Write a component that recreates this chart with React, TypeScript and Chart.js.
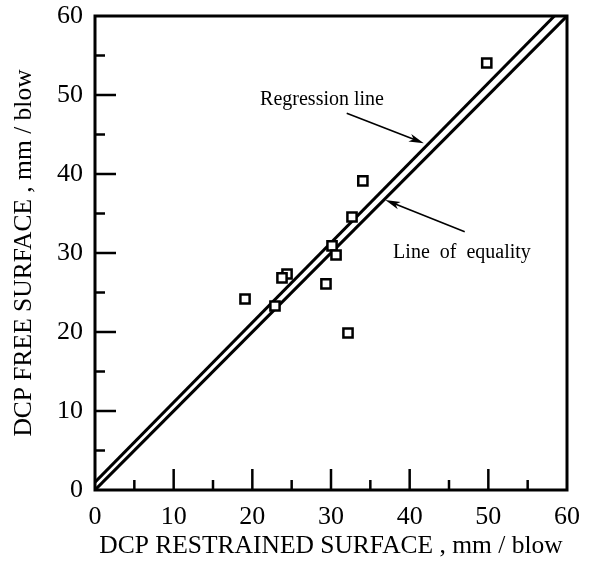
import React, { useEffect, useRef } from 'react';
import { Chart, registerables } from 'chart.js';

Chart.register(...registerables);

// ---- data ----
const restrainedSurface = [49.8, 34.05, 32.67, 30.13, 30.64, 24.41, 23.77, 19.07, 22.88, 29.36, 32.16];
const freeSurface = [54.05, 39.13, 34.56, 30.89, 29.75, 27.34, 26.84, 24.18, 23.29, 26.08, 19.87];

const equalityX = [0, 60];
const equalityY = [0, 60];
const regressionX = [0, 58.4];
const regressionY = [1.0, 60];

const majorTicks = [10, 20, 30, 40, 50];
const minorTicks = [5, 15, 25, 35, 45, 55];

const xTitle = 'DCP RESTRAINED SURFACE , mm / blow';
const yTitle = 'DCP FREE SURFACE , mm / blow';
const regressionLabel = 'Regression line';
const equalityLabel = 'Line  of  equality';

// annotation anchors in data units
const regressionText = { x: 28.86, y: 49.4 };
const regressionArrow = { x0: 32.0, y0: 47.7, x1: 41.8, y1: 43.9 };
const equalityText = { x: 46.65, y: 30.0 };
const equalityArrow = { x0: 47.0, y0: 32.7, x1: 36.9, y1: 36.7 };

const FONT = '"Liberation Serif", "Times New Roman", serif';

function drawArrow(ctx: CanvasRenderingContext2D, x0: number, y0: number, x1: number, y1: number) {
  const ang = Math.atan2(y1 - y0, x1 - x0);
  const len = 15;
  const half = 4;
  ctx.save();
  ctx.strokeStyle = '#000';
  ctx.fillStyle = '#000';
  ctx.lineWidth = 1.6;
  ctx.beginPath();
  ctx.moveTo(x0, y0);
  ctx.lineTo(x1 - Math.cos(ang) * 6, y1 - Math.sin(ang) * 6);
  ctx.stroke();
  ctx.translate(x1, y1);
  ctx.rotate(ang);
  ctx.beginPath();
  ctx.moveTo(0, 0);
  ctx.lineTo(-len, -half);
  ctx.lineTo(-len + 4, 0);
  ctx.lineTo(-len, half);
  ctx.closePath();
  ctx.fill();
  ctx.restore();
}

const framePlugin = {
  id: 'frameTicks',
  afterDatasetsDraw(chart: any) {
    const { ctx, chartArea, scales } = chart;
    const xs = scales.x;
    const ys = scales.y;
    ctx.save();
    ctx.strokeStyle = '#000';
    ctx.lineWidth = 3;
    ctx.strokeRect(chartArea.left, chartArea.top, chartArea.right - chartArea.left, chartArea.bottom - chartArea.top);
    ctx.lineWidth = 2.5;
    const drawTick = (v: number, len: number) => {
      const px = xs.getPixelForValue(v);
      ctx.beginPath();
      ctx.moveTo(px, chartArea.bottom);
      ctx.lineTo(px, chartArea.bottom - len);
      ctx.stroke();
      const py = ys.getPixelForValue(v);
      ctx.beginPath();
      ctx.moveTo(chartArea.left, py);
      ctx.lineTo(chartArea.left + len, py);
      ctx.stroke();
    };
    majorTicks.forEach((v) => drawTick(v, 21));
    minorTicks.forEach((v) => drawTick(v, 10));

    ctx.fillStyle = '#000';
    ctx.font = `20px ${FONT}`;
    ctx.textAlign = 'center';
    ctx.textBaseline = 'middle';
    ctx.fillText(regressionLabel, xs.getPixelForValue(regressionText.x), ys.getPixelForValue(regressionText.y));
    ctx.fillText(equalityLabel, xs.getPixelForValue(equalityText.x), ys.getPixelForValue(equalityText.y));
    drawArrow(
      ctx,
      xs.getPixelForValue(regressionArrow.x0),
      ys.getPixelForValue(regressionArrow.y0),
      xs.getPixelForValue(regressionArrow.x1),
      ys.getPixelForValue(regressionArrow.y1)
    );
    drawArrow(
      ctx,
      xs.getPixelForValue(equalityArrow.x0),
      ys.getPixelForValue(equalityArrow.y0),
      xs.getPixelForValue(equalityArrow.x1),
      ys.getPixelForValue(equalityArrow.y1)
    );
    ctx.restore();
  },
};

export default function App() {
  const ref = useRef<HTMLCanvasElement | null>(null);
  useEffect(() => {
    if (!ref.current) return;
    const chart = new Chart(ref.current, {
      type: 'scatter',
      data: {
        datasets: [
          {
            label: 'Line of equality',
            data: equalityX.map((x, i) => ({ x, y: equalityY[i] })),
            showLine: true,
            borderColor: '#000',
            borderWidth: 3,
            pointRadius: 0,
            order: 2,
          },
          {
            label: 'Regression line',
            data: regressionX.map((x, i) => ({ x, y: regressionY[i] })),
            showLine: true,
            borderColor: '#000',
            borderWidth: 3,
            pointRadius: 0,
            order: 2,
          },
          {
            label: 'Data',
            data: restrainedSurface.map((x, i) => ({ x, y: freeSurface[i] })),
            pointStyle: 'rect',
            pointRadius: 6.5,
            borderColor: '#000',
            backgroundColor: '#fff',
            borderWidth: 2.5,
            order: 1,
          },
        ],
      },
      options: {
        animation: false,
        responsive: true,
        maintainAspectRatio: false,
        layout: { padding: { left: 0, top: 16, right: 26, bottom: 0 } },
        plugins: { legend: { display: false }, tooltip: { enabled: false } },
        scales: {
          x: {
            type: 'linear',
            min: 0,
            max: 60,
            grid: { display: false, drawTicks: false },
            border: { display: false },
            ticks: { stepSize: 10, padding: 12, color: '#000', font: { family: FONT, size: 26 } },
            title: {
              display: true,
              text: xTitle,
              color: '#000',
              font: { family: FONT, size: 25.5 },
              padding: { top: 0, bottom: 2 },
            },
            afterFit: (s: any) => {
              s.height = 74;
              s.paddingLeft = 0;
              s.paddingRight = 0;
            },
          },
          y: {
            type: 'linear',
            min: 0,
            max: 60,
            grid: { display: false, drawTicks: false },
            border: { display: false },
            ticks: { stepSize: 10, padding: 12, color: '#000', font: { family: FONT, size: 26 } },
            title: {
              display: true,
              text: yTitle,
              color: '#000',
              font: { family: FONT, size: 25.5 },
              padding: { top: 9, bottom: 0 },
            },
            afterFit: (s: any) => {
              s.width = 95;
              s.paddingTop = 0;
              s.paddingBottom = 0;
            },
          },
        },
      },
      plugins: [framePlugin],
    });
    return () => chart.destroy();
  }, []);
  return (
    <div style={{ position: 'fixed', left: 0, top: 0, width: 593, height: 564, background: '#fff' }}>
      <canvas ref={ref} />
    </div>
  );
}
